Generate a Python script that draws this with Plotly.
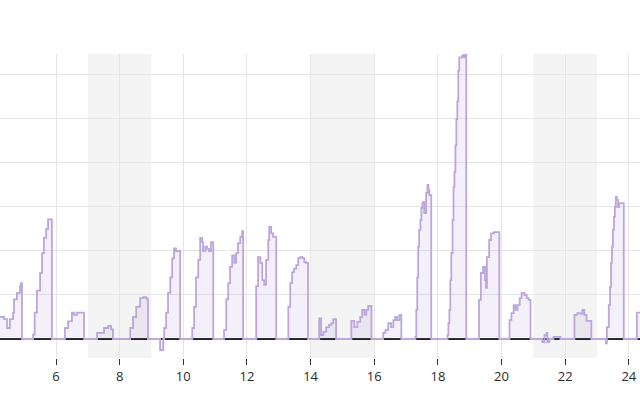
import plotly.graph_objects as go

# time (day of month, fractional) and value; a 0 closes each daily block
t = [
    4.15, 4.37, 4.46, 4.55, 4.65, 4.68, 4.77, 4.87, 4.90, 4.93,
    5.28, 5.33, 5.40, 5.50, 5.56, 5.62, 5.69, 5.75, 5.87,
    6.28, 6.38, 6.50, 6.57, 6.66, 6.88,
    7.29, 7.51, 7.64, 7.73, 7.79,
    8.33, 8.42, 8.52, 8.64, 8.74, 8.83, 8.89,
    9.27, 9.37, 9.40, 9.46, 9.52, 9.59, 9.65, 9.71, 9.77, 9.90,
    10.28, 10.34, 10.40, 10.47, 10.53, 10.59, 10.62, 10.69, 10.75, 10.81, 10.87, 10.94,
    11.28, 11.35, 11.41, 11.47, 11.535, 11.60, 11.66, 11.72, 11.79, 11.85, 11.88,
    12.29, 12.35, 12.42, 12.48, 12.54, 12.60, 12.67, 12.70, 12.76, 12.82, 12.92,
    13.30, 13.36, 13.42, 13.48, 13.55, 13.61, 13.67, 13.74, 13.80, 13.86, 13.92,
    14.27, 14.33, 14.40, 14.49, 14.58, 14.65, 14.71, 14.80,
    15.28, 15.37, 15.47, 15.56, 15.62, 15.69, 15.75, 15.81, 15.91,
    16.28, 16.35, 16.44, 16.53, 16.60, 16.66, 16.72, 16.79, 16.85,
    17.29, 17.32, 17.35, 17.38, 17.41, 17.45, 17.48, 17.51, 17.54, 17.57, 17.63, 17.67, 17.70, 17.73, 17.79,
    18.30, 18.33, 18.36, 18.39, 18.42, 18.46, 18.49, 18.52, 18.55, 18.58, 18.61, 18.64, 18.67, 18.77, 18.83, 18.86, 18.89,
    19.29, 19.35, 19.42, 19.48, 19.51, 19.54, 19.61, 19.67, 19.76, 19.93,
    20.25, 20.31, 20.38, 20.44, 20.50, 20.57, 20.63, 20.72, 20.79, 20.85, 20.91,
    21.28, 21.35, 21.41, 21.44, 21.50, 21.63, 21.85,
    22.29, 22.38, 22.48, 22.54, 22.60, 22.67, 22.82,
    23.28, 23.31, 23.37, 23.41, 23.44, 23.47, 23.50, 23.53, 23.56, 23.59, 23.62, 23.66, 23.69, 23.84,
    24.25, 24.60,
]
v = [
    0.50, 0.45, 0.25, 0.45, 0.60, 0.90, 1.05, 1.20, 1.27, 0,
    0.10, 0.60, 1.10, 1.50, 1.95, 2.30, 2.50, 2.72, 0,
    0.25, 0.40, 0.60, 0.55, 0.60, 0,
    0.14, 0.25, 0.30, 0.22, 0,
    0.25, 0.50, 0.73, 0.93, 0.95, 0.92, 0,
    -0.25, 0.0, 0.25, 0.60, 1.05, 1.40, 1.83, 2.06, 2.00, 0,
    0.25, 0.73, 1.40, 1.80, 2.30, 2.20, 2.00, 2.10, 2.05, 2.00, 2.20, 0,
    0.20, 0.90, 1.27, 1.64, 1.90, 1.73, 1.95, 2.18, 2.32, 2.45, 0,
    1.20, 1.86, 1.73, 1.34, 1.23, 1.80, 2.25, 2.55, 2.40, 2.32, 0,
    0.73, 1.27, 1.52, 1.60, 1.68, 1.84, 1.86, 1.84, 1.75, 1.73, 0,
    0.47, 0.09, 0.16, 0.27, 0.32, 0.36, 0.45, 0,
    0.41, 0.27, 0.39, 0.50, 0.66, 0.55, 0.66, 0.75, 0,
    0.14, 0.20, 0.36, 0.27, 0.43, 0.50, 0.43, 0.55, 0,
    0.05, 0.66, 1.40, 2.10, 2.48, 2.70, 2.98, 3.09, 3.11, 2.86, 3.32, 3.50, 3.39, 3.27, 0,
    0.09, 0.36, 0.66, 1.34, 1.95, 2.70, 3.45, 3.80, 4.40, 5.00, 5.40, 6.10, 6.40, 6.45, 6.40, 6.50, 0,
    0.89, 1.50, 1.64, 1.34, 1.16, 1.86, 2.25, 2.40, 2.43, 0,
    0.43, 0.59, 0.77, 0.66, 0.77, 0.93, 1.05, 1.00, 0.93, 0.89, 0,
    -0.07, 0.09, 0.14, -0.07, 0.0, 0.05, 0,
    0.55, 0.59, 0.57, 0.66, 0.55, 0.41, 0,
    -0.10, 0.27, 0.77, 1.18, 1.73, 2.10, 2.48, 2.77, 3.00, 3.23, 3.16, 3.00, 3.09, 0,
    0.60, 0.60,
]

# weekend bands (start, end)
band_start = [7, 14, 21]
band_end = [9, 16, 23]

x_range = [4.24, 24.35]
y_range = [-0.432, 6.477]
x_ticks = [6, 8, 10, 12, 14, 16, 18, 20, 22, 24]

fig = go.Figure()
fig.add_trace(go.Scatter(
    x=t, y=v, mode="lines", line=dict(shape="hv", color="#bba6de", width=1.8),
    fill="tozeroy", fillcolor="rgba(179,157,219,0.15)", showlegend=False,
))

for a, b in zip(band_start, band_end):
    fig.add_shape(type="rect", xref="x", yref="paper", x0=a, x1=b, y0=0, y1=1,
                  fillcolor="#f4f4f4", line_width=0, layer="below")

fig.update_layout(
    width=640, height=400,
    margin=dict(l=0, r=0, t=54, b=42),
    paper_bgcolor="white", plot_bgcolor="white",
    font=dict(family="Open Sans", size=13, color="#2a2a2a"),
    xaxis=dict(range=x_range, tickvals=x_ticks, showgrid=True, gridcolor="#e6e6e6",
               ticks="outside", ticklen=6, tickcolor="#333", zeroline=False,
               showline=False),
    yaxis=dict(range=y_range, dtick=1, showgrid=True, gridcolor="#e6e6e6",
               showticklabels=False, zeroline=True, zerolinecolor="#222",
               zerolinewidth=2, showline=False),
)

fig.write_html("out.html", config={"displayModeBar": False},
               post_script="document.body.style.margin='0';")
